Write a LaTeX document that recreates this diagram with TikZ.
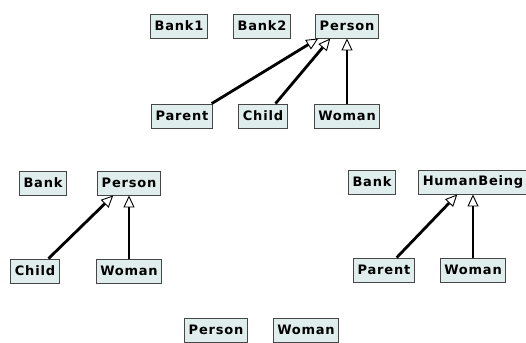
\documentclass[tikz,border=0pt]{standalone}
\usepackage{fontspec}
\newfontfamily\clsfont[LetterSpace=6]{DejaVu Sans Bold}
\usetikzlibrary{arrows.meta,positioning,calc}
\definecolor{boxfill}{RGB}{224,237,237}
\definecolor{boxline}{RGB}{70,70,70}
\tikzset{
  cls/.style={draw=boxline, line width=0.9pt, fill=boxfill, inner xsep=4pt,
    minimum height=24pt, font=\clsfont\fontsize{13}{15}\selectfont},
  isa/.style={line width=2.8pt, -{Triangle[open, length=12pt, width=11pt, line width=0.9pt]}}
}

\begin{document}
\begin{tikzpicture}[x=1pt, y=-1pt]
\useasboundingbox (0,0) rectangle (526,342);
% first model
\node[cls] (bankA)   at (179,26)  {Bank1};
\node[cls] (bankB)   at (262,26)  {Bank2};
\node[cls] (personA) at (347,26)  {Person};
\node[cls] (parentA) at (182,116) {Parent};
\node[cls] (childA)  at (263,116) {Child};
\node[cls] (womanA)  at (347,116) {Woman};
\draw[isa] ([xshift=-1pt]parentA.north east) -- ([xshift=3pt]personA.south west);
\draw[isa] ([xshift=-12pt]childA.north east) -- ([xshift=15pt]personA.south west);
\draw[isa] (womanA.north) -- (personA.south);
% second model
\node[cls] (bankC)   at (43,183)  {Bank};
\node[cls] (personC) at (129,183) {Person};
\node[cls] (childC)  at (35,271)  {Child};
\node[cls] (womanC)  at (129,271) {Woman};
\draw[isa] ([xshift=-11pt]childC.north east) -- ([xshift=16pt]personC.south west);
\draw[isa] (womanC.north) -- (personC.south);
% third model
\node[cls] (bankD)   at (372,182) {Bank};
\node[cls] (humanD)  at (473,182) {HumanBeing};
\node[cls] (parentD) at (384,270) {Parent};
\node[cls] (womanD)  at (473,270) {Woman};
\draw[isa] ([xshift=-18pt]parentD.north east) -- ([xshift=39pt]humanD.south west);
\draw[isa] (womanD.north) -- (humanD.south);
% fourth model
\node[cls] (personE) at (216,330) {Person};
\node[cls] (womanE)  at (306,330) {Woman};
\end{tikzpicture}
\end{document}
